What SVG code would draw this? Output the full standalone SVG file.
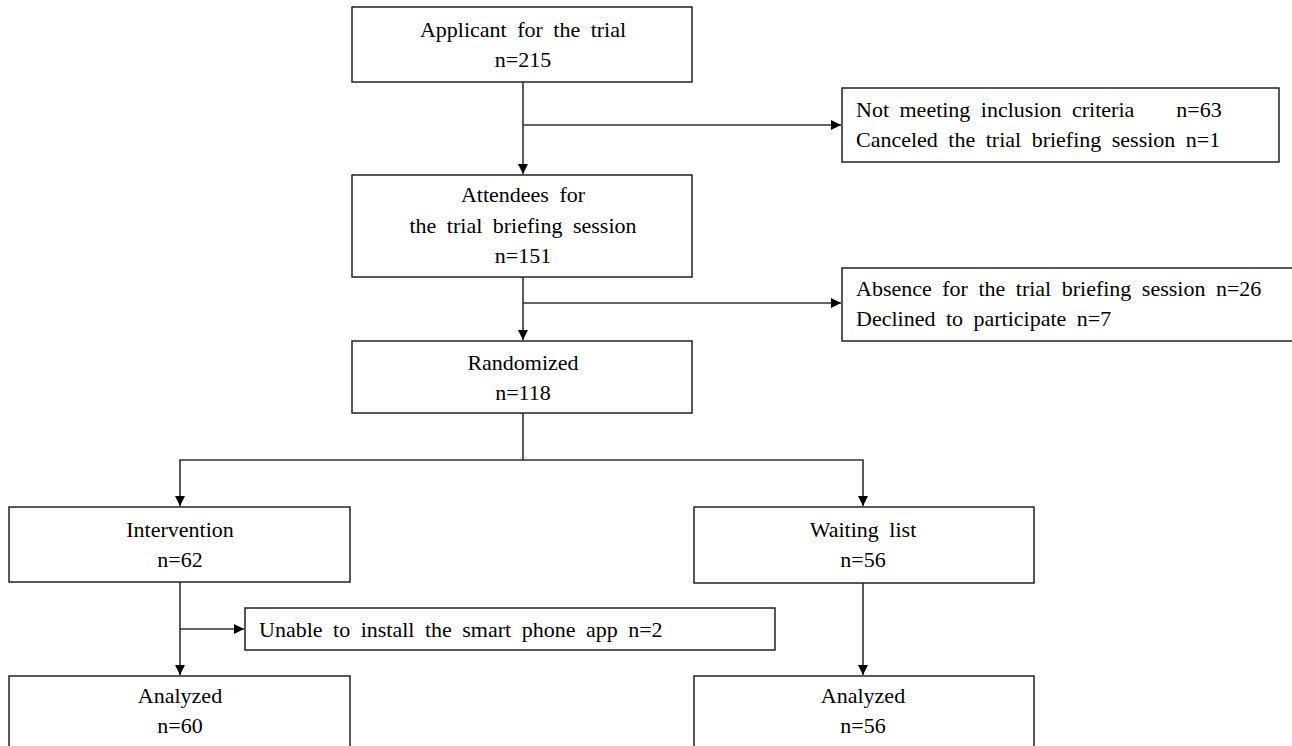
<svg xmlns="http://www.w3.org/2000/svg" width="1292" height="746" viewBox="0 0 1292 746">
<style>
.box{fill:#fff;stroke:#222;stroke-width:1.5}
.t{font-family:"Liberation Serif","Times New Roman",serif;font-size:22px;fill:#000;word-spacing:5px}
.c{text-anchor:middle}
.ln{fill:none;stroke:#333;stroke-width:1.6}
</style>
<defs>
<marker id="ah" viewBox="0 0 10 10" refX="10" refY="5" markerWidth="10" markerHeight="10" markerUnits="userSpaceOnUse" orient="auto">
<path d="M0,0 L10,5 L0,10 z" fill="#000"/>
</marker>
</defs>
<rect width="1292" height="746" fill="#fff"/>
<g id="connectors">
<path class="ln" d="M523,82 V174" marker-end="url(#ah)"/>
<path class="ln" d="M523,125 H841" marker-end="url(#ah)"/>
<path class="ln" d="M523,277 V340" marker-end="url(#ah)"/>
<path class="ln" d="M523,303 H841" marker-end="url(#ah)"/>
<path class="ln" d="M523,413 V460 H180 V506" marker-end="url(#ah)"/>
<path class="ln" d="M523,460 H863 V506" marker-end="url(#ah)"/>
<path class="ln" d="M180,582 V675" marker-end="url(#ah)"/>
<path class="ln" d="M180,629 H244" marker-end="url(#ah)"/>
<path class="ln" d="M863,583 V675" marker-end="url(#ah)"/>
</g>
<g id="applicant">
<rect class="box" x="352" y="7" width="340" height="75"/>
<text class="t c" x="523" y="37">Applicant for the trial</text>
<text class="t c" x="523" y="67">n=215</text>
</g>
<g id="excluded1">
<rect class="box" x="842" y="88" width="437" height="74"/>
<text class="t" x="856" y="117" xml:space="preserve">Not meeting inclusion criteria    n=63</text>
<text class="t" x="856" y="147">Canceled the trial briefing session n=1</text>
</g>
<g id="attendees">
<rect class="box" x="352" y="175" width="340" height="102"/>
<text class="t c" x="523" y="202">Attendees for</text>
<text class="t c" x="523" y="233">the trial briefing session</text>
<text class="t c" x="523" y="263">n=151</text>
</g>
<g id="excluded2">
<rect class="box" x="842" y="268" width="460" height="73"/>
<text class="t" x="856" y="296">Absence for the trial briefing session n=26</text>
<text class="t" x="856" y="326">Declined to participate n=7</text>
</g>
<g id="randomized">
<rect class="box" x="352" y="341" width="340" height="72"/>
<text class="t c" x="523" y="370">Randomized</text>
<text class="t c" x="523" y="400">n=118</text>
</g>
<g id="intervention">
<rect class="box" x="9" y="507" width="341" height="75"/>
<text class="t c" x="180" y="537">Intervention</text>
<text class="t c" x="180" y="567">n=62</text>
</g>
<g id="waiting">
<rect class="box" x="694" y="507" width="340" height="76"/>
<text class="t c" x="863" y="537">Waiting list</text>
<text class="t c" x="863" y="567">n=56</text>
</g>
<g id="unable">
<rect class="box" x="245" y="608" width="530" height="42"/>
<text class="t" x="259" y="637">Unable to install the smart phone app n=2</text>
</g>
<g id="analyzed1">
<rect class="box" x="9" y="676" width="341" height="80"/>
<text class="t c" x="180" y="703">Analyzed</text>
<text class="t c" x="180" y="733">n=60</text>
</g>
<g id="analyzed2">
<rect class="box" x="694" y="676" width="340" height="80"/>
<text class="t c" x="863" y="703">Analyzed</text>
<text class="t c" x="863" y="733">n=56</text>
</g>
</svg>
